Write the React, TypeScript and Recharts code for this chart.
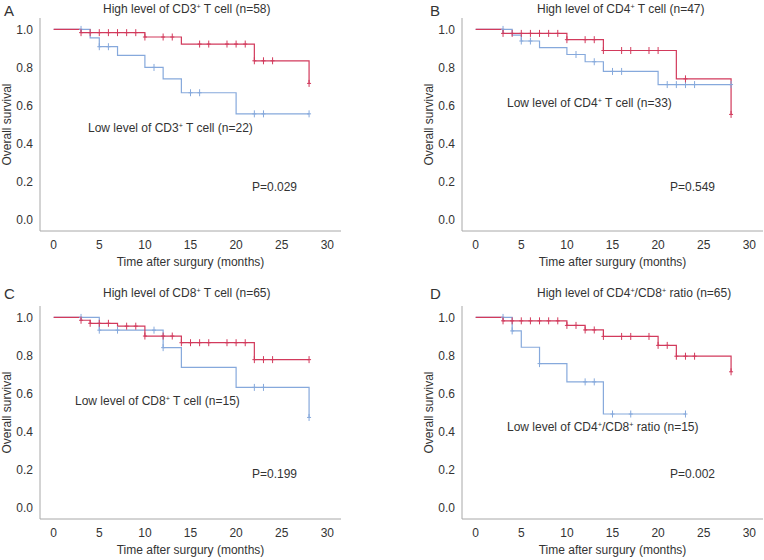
import React from "react";
import { ComposedChart, Line, XAxis, YAxis } from "recharts";

// each step: [month, survival, censored (1 = "+" mark)]
type Step = [number, number, number];

const monthTicks = [0, 5, 10, 15, 20, 25, 30];
const survivalTicks = [0, 0.2, 0.4, 0.6, 0.8, 1.0];

const cd3High: Step[] = [
  [0, 1, 0], [3, 0.983, 1], [4, 0.983, 1], [5, 0.983, 1], [6, 0.983, 1], [7, 0.983, 1],
  [8, 0.983, 1], [9, 0.983, 1], [10, 0.96, 1], [12, 0.96, 1], [13, 0.96, 1],
  [14, 0.923, 0], [16, 0.923, 1], [17, 0.923, 1], [19, 0.923, 1], [20, 0.923, 1], [21, 0.923, 1],
  [22, 0.835, 1], [23, 0.835, 1], [24, 0.835, 1], [28, 0.716, 1],
];
const cd3Low: Step[] = [
  [0, 1, 0], [3, 1, 1], [4, 0.955, 0], [5, 0.909, 1], [6, 0.909, 1], [7, 0.864, 0],
  [10, 0.8, 0], [11, 0.8, 1], [12, 0.74, 0], [14, 0.667, 0], [15, 0.667, 1], [16, 0.667, 1],
  [20, 0.556, 0], [22, 0.556, 1], [23, 0.556, 1], [28, 0.556, 1],
];

const cd4High: Step[] = [
  [0, 1, 0], [3, 0.979, 1], [4, 0.979, 1], [5, 0.979, 1], [6, 0.979, 1], [7, 0.979, 1],
  [8, 0.979, 1], [9, 0.979, 1], [10, 0.946, 1], [12, 0.946, 1], [13, 0.946, 1],
  [14, 0.889, 1], [16, 0.889, 1], [17, 0.889, 1], [19, 0.889, 1], [20, 0.889, 1],
  [22, 0.74, 0], [23, 0.74, 1], [28, 0.553, 1],
];
const cd4Low: Step[] = [
  [0, 1, 0], [3, 1, 1], [4, 0.97, 0], [5, 0.939, 1], [6, 0.939, 1], [7, 0.904, 0],
  [10, 0.868, 0], [11, 0.868, 1], [12, 0.83, 0], [13, 0.83, 1], [14, 0.779, 0],
  [15, 0.779, 1], [16, 0.779, 1], [20, 0.71, 0], [21, 0.71, 1], [22, 0.71, 1],
  [23, 0.71, 1], [24, 0.71, 1], [28, 0.71, 1],
];

const cd8High: Step[] = [
  [0, 1, 0], [3, 0.985, 1], [4, 0.969, 1], [5, 0.969, 1], [6, 0.969, 1], [7, 0.954, 0],
  [8, 0.954, 1], [9, 0.954, 1], [10, 0.902, 1], [12, 0.902, 1], [13, 0.902, 1],
  [14, 0.867, 1], [15, 0.867, 1], [16, 0.867, 1], [17, 0.867, 1], [19, 0.867, 1],
  [20, 0.867, 1], [21, 0.867, 1], [22, 0.778, 1], [23, 0.778, 1], [24, 0.778, 1],
  [28, 0.778, 1],
];
const cd8Low: Step[] = [
  [0, 1, 0], [3, 1, 1], [5, 0.933, 1], [7, 0.933, 1], [11, 0.933, 1], [12, 0.841, 1],
  [14, 0.737, 0], [20, 0.632, 0], [22, 0.632, 1], [23, 0.632, 1], [28, 0.474, 1],
];

const ratioHigh: Step[] = [
  [0, 1, 0], [3, 0.982, 1], [4, 0.982, 1], [5, 0.982, 1], [6, 0.982, 1], [7, 0.982, 1],
  [8, 0.982, 1], [9, 0.982, 1], [10, 0.958, 1], [11, 0.958, 1], [12, 0.934, 1],
  [13, 0.934, 1], [14, 0.9, 1], [16, 0.9, 1], [17, 0.9, 1], [19, 0.9, 1],
  [20, 0.853, 1], [21, 0.853, 1], [22, 0.796, 1], [23, 0.796, 1], [24, 0.796, 1],
  [28, 0.714, 1],
];
const ratioLow: Step[] = [
  [0, 1, 0], [3, 1, 1], [4, 0.929, 1], [5, 0.843, 0], [7, 0.757, 1], [10, 0.661, 0],
  [12, 0.661, 1], [13, 0.661, 1], [14, 0.492, 0], [15, 0.492, 1], [17, 0.492, 1],
  [23, 0.492, 1],
];

const RED = "#d23a5c";
const BLUE = "#86a9dc";
const AXIS = "#a8a8a8";
const TEXT = "#333";
const FONT = "'Liberation Sans', Arial, Helvetica, sans-serif";
const FS = 12;

const toRows = (steps: Step[]) => steps.map(([t, s, c]) => ({ t, s, c }));

const censorDot = (color: string) => (props: any) => {
  const { cx, cy, payload, index } = props;
  if (!payload || !payload.c) return <g key={`n${index}`} />;
  return (
    <g key={`c${index}`} stroke={color} strokeWidth={1}>
      <line x1={cx} y1={cy - 3.5} x2={cx} y2={cy + 3.5} />
      <line x1={cx - 2} y1={cy} x2={cx + 2} y2={cy} />
    </g>
  );
};

interface PanelProps {
  left: number;
  top: number;
  marginLeft: number;
  high: Step[];
  low: Step[];
}

const KMPanel: React.FC<PanelProps> = ({ left, top, marginLeft, high, low }) => (
  <div style={{ position: "absolute", left, top }}>
    <ComposedChart
      width={382}
      height={280}
      margin={{ top: 18, right: 382 - marginLeft - 40 - 301, bottom: 0, left: marginLeft }}
    >
      <XAxis
        dataKey="t"
        type="number"
        domain={[-1.5, 31.5]}
        ticks={monthTicks}
        tickLine={false}
        tickSize={0}
        tickMargin={9}
        height={49}
        stroke={AXIS}
        tick={{ fill: TEXT, fontSize: FS, fontFamily: FONT }}
        label={{
          value: "Time after surgury (months)",
          position: "insideBottom",
          offset: 14,
          style: { fill: TEXT, fontSize: FS, fontFamily: FONT },
        }}
      />
      <YAxis
        type="number"
        domain={[-0.06, 1.06]}
        ticks={survivalTicks}
        tickFormatter={(v: number) => v.toFixed(1)}
        tickLine={false}
        tickSize={0}
        tickMargin={7}
        width={40}
        stroke={AXIS}
        tick={{ fill: TEXT, fontSize: FS, fontFamily: FONT }}
        label={{
          value: "Overall survival",
          angle: -90,
          position: "insideLeft",
          offset: 7,
          style: { fill: TEXT, fontSize: FS, fontFamily: FONT, textAnchor: "middle" },
        }}
      />
      <Line
        data={toRows(low)}
        dataKey="s"
        type="stepAfter"
        stroke={BLUE}
        strokeWidth={1.2}
        dot={censorDot(BLUE)}
        activeDot={false}
        isAnimationActive={false}
      />
      <Line
        data={toRows(high)}
        dataKey="s"
        type="stepAfter"
        stroke={RED}
        strokeWidth={1.2}
        dot={censorDot(RED)}
        activeDot={false}
        isAnimationActive={false}
      />
    </ComposedChart>
  </div>
);

const Plus = () => (
  <sup style={{ fontSize: "0.6em", verticalAlign: "0.55em", lineHeight: 0 }}>+</sup>
);

const Note: React.FC<{ x: number; y: number; size?: number; children: React.ReactNode }> = ({
  x,
  y,
  size = FS,
  children,
}) => (
  <div
    style={{
      position: "absolute",
      left: x,
      top: y - size / 2,
      fontSize: size,
      lineHeight: `${size}px`,
      fontFamily: FONT,
      color: TEXT,
      whiteSpace: "nowrap",
    }}
  >
    {children}
  </div>
);

export default function App() {
  return (
    <div
      style={{
        position: "absolute",
        left: 0,
        top: 0,
        width: 764,
        height: 560,
        background: "#fff",
        overflow: "hidden",
      }}
    >
      <KMPanel left={0} top={0} marginLeft={0} high={cd3High} low={cd3Low} />
      <KMPanel left={382} top={0} marginLeft={40} high={cd4High} low={cd4Low} />
      <KMPanel left={0} top={288} marginLeft={0} high={cd8High} low={cd8Low} />
      <KMPanel left={382} top={288} marginLeft={40} high={ratioHigh} low={ratioLow} />

      <Note x={4} y={10} size={15}>A</Note>
      <Note x={430} y={10} size={15}>B</Note>
      <Note x={4} y={293} size={15}>C</Note>
      <Note x={430} y={293} size={15}>D</Note>

      <Note x={103} y={9}>High level of CD3<Plus /> T cell (n=58)</Note>
      <Note x={537} y={9}>High level of CD4<Plus /> T cell (n=47)</Note>
      <Note x={103} y={293}>High level of CD8<Plus /> T cell (n=65)</Note>
      <Note x={537} y={293}>High level of CD4<Plus />/CD8<Plus /> ratio (n=65)</Note>

      <Note x={88} y={128}>Low level of CD3<Plus /> T cell (n=22)</Note>
      <Note x={507} y={103}>Low level of CD4<Plus /> T cell (n=33)</Note>
      <Note x={75} y={401}>Low level of CD8<Plus /> T cell (n=15)</Note>
      <Note x={507} y={427}>Low level of CD4<Plus />/CD8<Plus /> ratio (n=15)</Note>

      <Note x={252} y={187}>P=0.029</Note>
      <Note x={670} y={187}>P=0.549</Note>
      <Note x={252} y={474}>P=0.199</Note>
      <Note x={670} y={474}>P=0.002</Note>
    </div>
  );
}
